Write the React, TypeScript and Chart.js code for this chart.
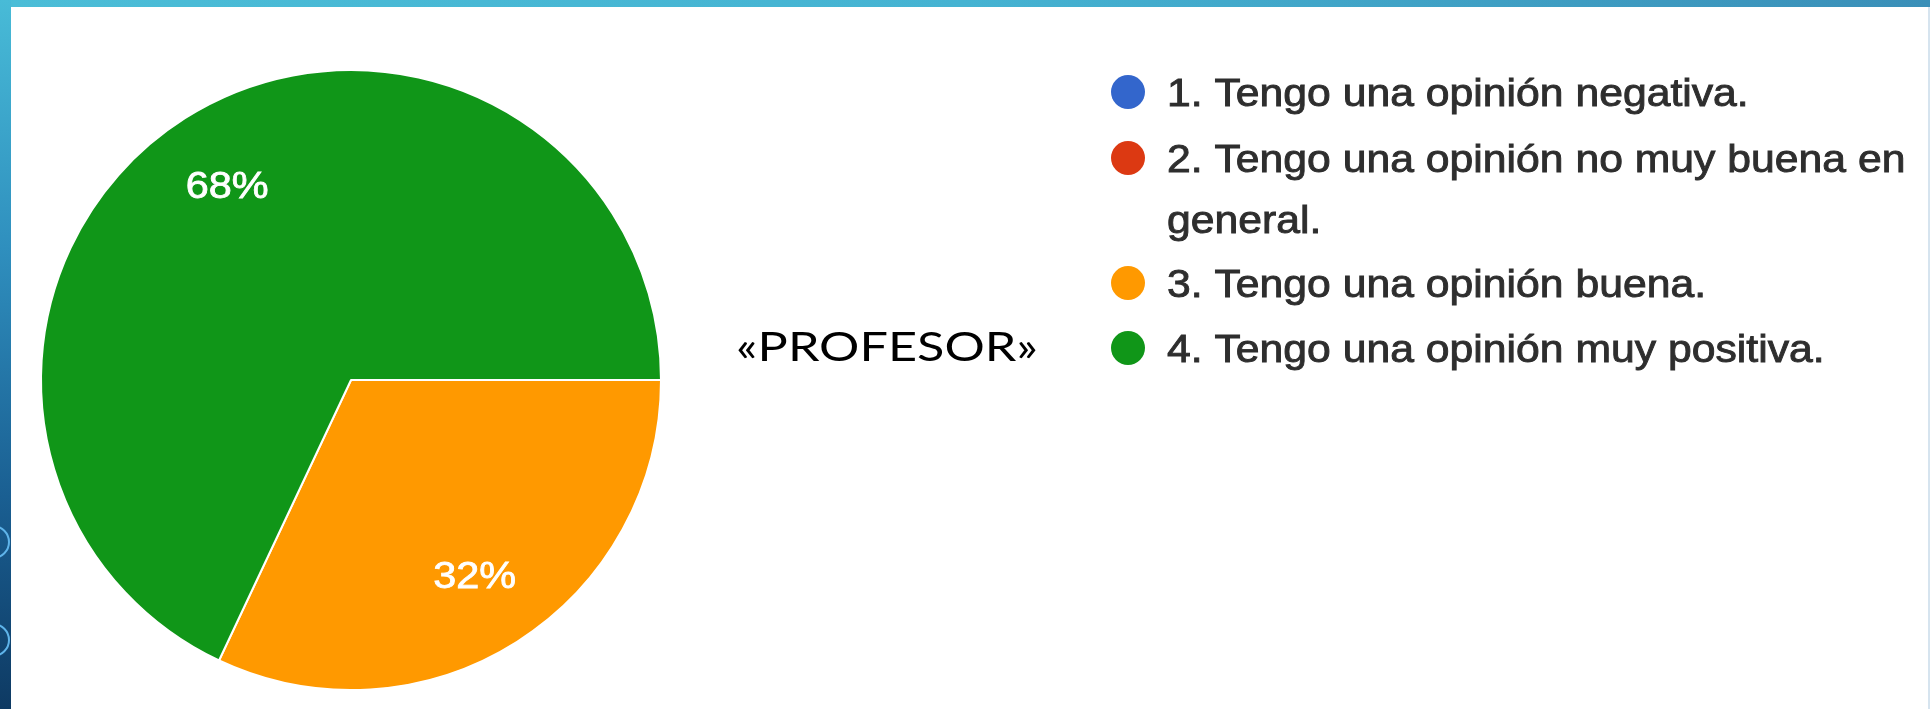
import React, { useEffect, useRef } from "react";
import { Chart, registerables } from "chart.js";

Chart.register(...registerables);

const categories = [
  "1. Tengo una opinión negativa.",
  "2. Tengo una opinión no muy buena en general.",
  "3. Tengo una opinión buena.",
  "4. Tengo una opinión muy positiva.",
];
const legendLines = [
  ["1. Tengo una opinión negativa."],
  ["2. Tengo una opinión no muy buena en", "general."],
  ["3. Tengo una opinión buena."],
  ["4. Tengo una opinión muy positiva."],
];
const values = [0, 0, 32, 68];
const colors = ["#3366cc", "#dc3912", "#ff9900", "#109618"];
const sideLabel = "«PROFESOR»";

const W = 1930;
const H = 709;

const pctLabelsPlugin = {
  id: "pctLabels",
  afterDatasetsDraw(chart: any) {
    const meta = chart.getDatasetMeta(0);
    const ctx = chart.ctx;
    const total = values.reduce((a, b) => a + b, 0);
    meta.data.forEach((arc: any, i: number) => {
      const v = values[i];
      if (!v) return;
      const p = arc.getProps(["x", "y", "startAngle", "endAngle", "outerRadius"], true);
      const mid = (p.startAngle + p.endAngle) / 2;
      const r = p.outerRadius * 0.745;
      const px = p.x + Math.cos(mid) * r;
      const py = p.y + Math.sin(mid) * r;
      ctx.save();
      ctx.translate(px, py);
      ctx.scale(1.15, 1);
      ctx.font = '36px "Liberation Sans", Arial, sans-serif';
      ctx.fillStyle = "#ffffff";
      ctx.strokeStyle = "#ffffff";
      ctx.lineWidth = 0.8;
      ctx.textAlign = "center";
      ctx.textBaseline = "alphabetic";
      const t = Math.round((v / total) * 100) + "%";
      ctx.fillText(t, 0, 13);
      ctx.strokeText(t, 0, 13);
      ctx.restore();
    });
  },
};

const legendPlugin = {
  id: "customLegend",
  afterDraw(chart: any) {
    const ctx = chart.ctx;
    const lineYs = [92, 158, 219, 283, 348];
    const circleX = 1128;
    const textX = 1167;
    const sx = 1.095;
    let li = 0;
    ctx.save();
    legendLines.forEach((lines, i) => {
      const y0 = lineYs[li];
      ctx.beginPath();
      ctx.fillStyle = colors[i];
      ctx.arc(circleX, y0, 17, 0, Math.PI * 2);
      ctx.fill();
      lines.forEach((t) => {
        const y = lineYs[li];
        ctx.save();
        ctx.translate(textX, y);
        ctx.scale(sx, 1);
        ctx.font = '39px "Liberation Sans", Arial, sans-serif';
        ctx.fillStyle = "#2e2e2e";
        ctx.strokeStyle = "#2e2e2e";
        ctx.lineWidth = 0.9;
        ctx.textAlign = "left";
        ctx.textBaseline = "alphabetic";
        ctx.fillText(t, 0, 14);
        ctx.strokeText(t, 0, 14);
        ctx.restore();
        li++;
      });
    });
    // side label
    ctx.font = '40px "Lato", "Open Sans", sans-serif';
    const mw = ctx.measureText(sideLabel).width;
    const target = 302;
    ctx.translate(887, 347);
    ctx.scale(target / mw, 1);
    ctx.fillStyle = "#000000";
    ctx.textAlign = "center";
    ctx.textBaseline = "alphabetic";
    ctx.fillText(sideLabel, 0, 14);
    ctx.restore();
  },
};

function PieChart() {
  const ref = useRef<HTMLCanvasElement | null>(null);
  useEffect(() => {
    if (!ref.current) return;
    const chart = new Chart(ref.current, {
      type: "pie",
      data: {
        labels: categories,
        datasets: [
          {
            data: values,
            backgroundColor: colors,
            borderColor: "#ffffff",
            borderWidth: 2,
          },
        ],
      },
      options: {
        animation: false,
        responsive: false,
        maintainAspectRatio: false,
        rotation: 90,
        layout: {
          padding: { left: 40, top: 69, right: W - 40 - 622, bottom: H - 69 - 622 },
        },
        plugins: {
          legend: { display: false },
          tooltip: { enabled: false },
          title: { display: false },
        },
      },
      plugins: [pctLabelsPlugin, legendPlugin],
    });
    return () => chart.destroy();
  }, []);
  return (
    <canvas
      ref={ref}
      width={W}
      height={H}
      style={{ position: "absolute", left: 0, top: 0, width: W, height: H }}
    />
  );
}

export default function App() {
  useEffect(() => {
    document.body.style.margin = "0";
  }, []);
  return (
    <div style={{ position: "relative", width: W, height: H, background: "#ffffff", overflow: "hidden" }}>
      <PieChart />
      <div
        style={{
          position: "absolute",
          left: 0,
          top: 0,
          width: W,
          height: 7,
          background: "linear-gradient(to right, #4bbdd7, #45b3d2 50%, #3a8fb8)",
        }}
      />
      <div
        style={{
          position: "absolute",
          left: 0,
          top: 0,
          width: 11,
          height: H,
          background: "linear-gradient(to bottom, #48bbd7, #2f8fbe 35%, #1a5f92 70%, #0e3a63)",
        }}
      />
      {[542, 640].map((cy) => (
        <div
          key={cy}
          style={{
            position: "absolute",
            left: -24,
            top: cy - 17,
            width: 30,
            height: 30,
            borderRadius: "50%",
            border: "2px solid #5fb4ea",
          }}
        />
      ))}
      <div
        style={{
          position: "absolute",
          right: 0,
          top: 7,
          width: 2,
          height: H - 7,
          background: "#d6e4ef",
        }}
      />
    </div>
  );
}
